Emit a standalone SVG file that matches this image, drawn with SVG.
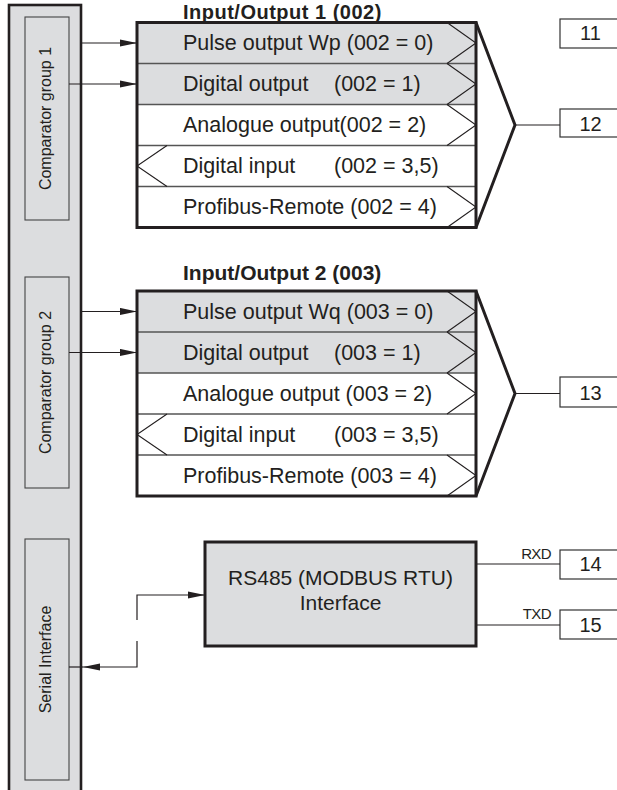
<svg xmlns="http://www.w3.org/2000/svg" width="617" height="790" viewBox="0 0 617 790">
<style>
  text { font-family: "Liberation Sans", Arial, sans-serif; fill: #231f20; }
  .row { font-size: 21.5px; }
  .title { font-size: 21px; font-weight: bold; }
  .title1 { font-size: 20px; font-weight: bold; letter-spacing: 0.5px; }
  .vert { font-size: 16px; text-anchor: middle; }
  .term { font-size: 20px; text-anchor: middle; }
  .sig { font-size: 15px; text-anchor: end; letter-spacing: -0.6px; }
  .rs { font-size: 21px; text-anchor: middle; }
  .gray { fill: #dcdddf; }
  .white { fill: #ffffff; }
  .rowline { stroke: #555; stroke-width: 1.4; }
  .thick { fill: none; stroke: #231f20; stroke-width: 3; }
  .thin { fill: none; stroke: #231f20; stroke-width: 1.1; }
  .inner { fill: none; stroke: #444; stroke-width: 1.1; }
  .conn { fill: none; stroke: #231f20; stroke-width: 1.2; }
  .termbox { fill: #fff; stroke: #333; stroke-width: 1.2; }
</style>
<defs>
  <marker id="arr" markerUnits="userSpaceOnUse" markerWidth="17" markerHeight="8" refX="17" refY="4" orient="auto">
    <path d="M0,0.4 L17,4 L0,7.6 z" fill="#231f20"/>
  </marker>
</defs>

<g id="left-column">
  <rect x="9" y="5" width="72" height="800" class="gray" stroke="#231f20" stroke-width="2.6"/>
</g>
<g id="comparator-group-1">
  <rect x="25" y="17" width="44" height="203" class="gray inner"/>
  <text class="vert" transform="translate(51,118.5) rotate(-90)">Comparator group 1</text>
</g>
<g id="comparator-group-2">
  <rect x="25" y="277" width="44" height="211" class="gray inner"/>
  <text class="vert" transform="translate(51,382.5) rotate(-90)">Comparator group 2</text>
</g>
<g id="serial-interface">
  <rect x="25" y="539" width="44" height="241" class="gray inner"/>
  <text class="vert" transform="translate(51,659.5) rotate(-90)">Serial Interface</text>
</g>

<g id="io1">
  <text class="title1" x="183" y="18.5">Input/Output 1 (002)</text>
  <rect x="137" y="22.5" width="339" height="41" class="gray"/>
  <rect x="137" y="63.5" width="339" height="41" class="gray"/>
  <rect x="137" y="104.5" width="339" height="123" class="white"/>
  <line x1="137" y1="63.5" x2="476" y2="63.5" class="rowline"/>
  <line x1="137" y1="104.5" x2="476" y2="104.5" class="rowline"/>
  <line x1="137" y1="145.5" x2="476" y2="145.5" class="rowline"/>
  <line x1="137" y1="186.5" x2="476" y2="186.5" class="rowline"/>
  <path class="thin" d="M447,22.5 L476,43 L447,63.5 M447,63.5 L476,84 L447,104.5 M447,104.5 L476,125 L447,145.5 M447,186.5 L476,207 L447,227.5 M167,145.5 L137,166 L167,186.5"/>
  <rect x="137" y="22.5" width="339" height="205" class="thick"/>
  <text class="row" x="183" y="50">Pulse output Wp (002 = 0)</text>
  <text class="row" x="183" y="91">Digital output<tspan x="334">(002 = 1)</tspan></text>
  <text class="row" x="183" y="132">Analogue output(002 = 2)</text>
  <text class="row" x="183" y="173">Digital input<tspan x="334">(002 = 3,5)</tspan></text>
  <text class="row" x="183" y="214">Profibus-Remote (002 = 4)</text>
  <path class="thick" d="M476,22.5 L515,125 L476,227.5"/>
</g>

<g id="io2">
  <text class="title" x="183" y="280">Input/Output 2 (003)</text>
  <rect x="137" y="291" width="339" height="41" class="gray"/>
  <rect x="137" y="332" width="339" height="41" class="gray"/>
  <rect x="137" y="373" width="339" height="123" class="white"/>
  <line x1="137" y1="332" x2="476" y2="332" class="rowline"/>
  <line x1="137" y1="373" x2="476" y2="373" class="rowline"/>
  <line x1="137" y1="414" x2="476" y2="414" class="rowline"/>
  <line x1="137" y1="455" x2="476" y2="455" class="rowline"/>
  <path class="thin" d="M447,291 L476,311.5 L447,332 M447,332 L476,352.5 L447,373 M447,373 L476,393.5 L447,414 M447,455 L476,475.5 L447,496 M167,414 L137,434.5 L167,455"/>
  <rect x="137" y="291" width="339" height="205" class="thick"/>
  <text class="row" x="183" y="318.5">Pulse output Wq (003 = 0)</text>
  <text class="row" x="183" y="359.5">Digital output<tspan x="334">(003 = 1)</tspan></text>
  <text class="row" x="183" y="400.5">Analogue output (003 = 2)</text>
  <text class="row" x="183" y="441.5">Digital input<tspan x="334">(003 = 3,5)</tspan></text>
  <text class="row" x="183" y="482.5">Profibus-Remote (003 = 4)</text>
  <path class="thick" d="M476,291 L515,393.5 L476,496"/>
</g>

<g id="rs485">
  <rect x="205" y="542" width="271" height="104" class="gray" stroke="#231f20" stroke-width="3"/>
  <text class="rs" x="340.5" y="585">RS485 (MODBUS RTU)</text>
  <text class="rs" x="340.5" y="610">Interface</text>
</g>

<g id="t11"><rect x="560" y="19" width="70" height="29" class="termbox"/><text class="term" x="590.5" y="39.5">11</text></g>
<g id="t12"><rect x="560" y="109" width="70" height="28" class="termbox"/><text class="term" x="590.5" y="130.5">12</text></g>
<g id="t13"><rect x="560" y="377" width="70" height="30" class="termbox"/><text class="term" x="590.5" y="399.5">13</text></g>
<g id="t14"><rect x="560" y="550" width="70" height="29" class="termbox"/><text class="term" x="590.5" y="571">14</text></g>
<g id="t15"><rect x="560" y="610" width="70" height="29" class="termbox"/><text class="term" x="590.5" y="632">15</text></g>

<g id="connectors">
  <line x1="82" y1="43" x2="137" y2="43" class="conn" marker-end="url(#arr)"/>
  <line x1="69" y1="84" x2="137" y2="84" class="conn" marker-end="url(#arr)"/>
  <line x1="82" y1="311.5" x2="137" y2="311.5" class="conn" marker-end="url(#arr)"/>
  <line x1="69" y1="352.5" x2="137" y2="352.5" class="conn" marker-end="url(#arr)"/>
  <line x1="515" y1="125" x2="560" y2="125" class="conn"/>
  <line x1="515" y1="393.5" x2="560" y2="393.5" class="conn"/>
  <path d="M137,620 V595 H205" class="conn" marker-end="url(#arr)"/>
  <path d="M137,641 V667 H83" class="conn" marker-end="url(#arr)"/>
  <line x1="69" y1="667" x2="83" y2="667" class="conn"/>
  <line x1="476" y1="564" x2="560" y2="564" class="conn"/>
  <line x1="476" y1="625" x2="560" y2="625" class="conn"/>
  <text class="sig" x="551" y="559">RXD</text>
  <text class="sig" x="551" y="619">TXD</text>
</g>
</svg>
